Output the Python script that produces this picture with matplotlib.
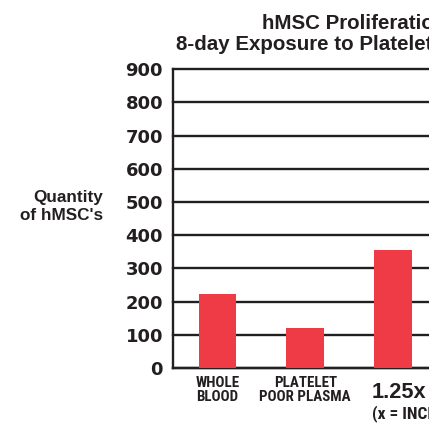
import os
import matplotlib
matplotlib.use("Agg")
import matplotlib.pyplot as plt
from matplotlib import font_manager
from matplotlib.font_manager import FontProperties

# data
categories = ["WHOLE\nBLOOD", "PLATELET\nPOOR PLASMA", ""]
values = [222, 121, 355]
yticks = [0, 100, 200, 300, 400, 500, 600, 700, 800, 900]
title1 = "hMSC Proliferation"
title2 = "8-day Exposure to Platelet Rich Plasma"
ylabel = "Quantity\nof hMSC's"
third_big = "1.25x"
third_small = "(x = INCREASE)"

# look for a condensed bold face for the small caps labels
candidates = [
    ("notosans-extracondensedbold.ttf", 11),
    ("liberationsansnarrow-bold.ttf", 10),
    ("notosans-condensedbold.ttf", 10),
    ("robotocondensed-bold.ttf", 10),
    ("dejavusanscondensed-bold.ttf", 9),
]
files = {os.path.basename(f).lower(): f for f in font_manager.findSystemFonts()}
for f in font_manager.fontManager.ttflist:
    files.setdefault(os.path.basename(f.fname).lower(), f.fname)
narrow_file, narrow_size = None, 9
for name, size in candidates:
    if name in files:
        narrow_file, narrow_size = files[name], size
        break


def narrow_font(scale=1.0):
    if narrow_file:
        return FontProperties(fname=narrow_file, size=narrow_size * scale)
    return FontProperties(family="Liberation Sans", weight="bold", size=narrow_size * scale)


red = "#EF3B45"
ink = "#231F20"

W, H = 429, 424
fig = plt.figure(figsize=(W / 100, H / 100), dpi=100)
ax = fig.add_axes([172.5 / W, 1 - 368 / H, 1 - 172.5 / W, (368 - 69.3) / H])

x = list(range(len(values)))
ax.bar(x, values, width=0.43, color=red, zorder=3)

ax.set_ylim(0, 900)
ax.set_xlim(-0.514, 2.41)
ax.set_yticks(yticks)
ax.set_yticklabels([str(t) for t in yticks], fontsize=13, fontweight="bold",
                   family="DejaVu Sans", color=ink)
ax.tick_params(axis="y", length=0, pad=6.8)
ax.set_xticks(x)
ax.set_xticklabels(categories, fontproperties=narrow_font(1.08), color=ink,
                   linespacing=0.95)
ax.tick_params(axis="x", length=0, pad=6)

ax.grid(axis="y", color=ink, linewidth=1.7, zorder=1)
for gl in ax.get_ygridlines():
    gl.set_clip_on(False)
ax.set_axisbelow(True)
for s in ["top", "right"]:
    ax.spines[s].set_visible(False)
for s in ["left", "bottom"]:
    ax.spines[s].set_color(ink)
    ax.spines[s].set_linewidth(1.7)

fig.text(103 / W, 1 - 206 / H, ylabel, ha="right", va="center",
         multialignment="right", fontsize=12.3, fontweight="bold",
         family="Liberation Sans", color=ink, linespacing=1.25)

fig.text(262 / W, 1 - 29 / H, title1, ha="left", va="baseline", fontsize=14.8,
         fontweight="bold", family="Liberation Sans", color=ink)
fig.text(176 / W, 1 - 50 / H, title2, ha="left", va="baseline", fontsize=14.8,
         fontweight="bold", family="Liberation Sans", color=ink)

fig.text(372 / W, 1 - 398 / H, third_big, ha="left", va="baseline", fontsize=15.7,
         fontweight="bold", family="Liberation Sans", color=ink)
fig.text(372 / W, 1 - 418 / H, third_small, ha="left", va="baseline",
         fontproperties=narrow_font(1.25), color=ink)

fig.savefig("out.png", dpi=100)
